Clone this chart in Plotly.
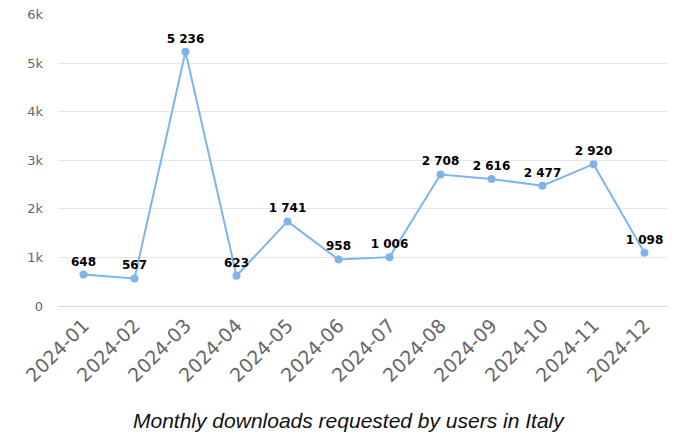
import plotly.graph_objects as go

months = ["2024-01", "2024-02", "2024-03", "2024-04", "2024-05", "2024-06",
          "2024-07", "2024-08", "2024-09", "2024-10", "2024-11", "2024-12"]
downloads = [648, 567, 5236, 623, 1741, 958, 1006, 2708, 2616, 2477, 2920, 1098]
labels = [f"{v:,}".replace(",", " ") for v in downloads]
y_ticks = [0, 1000, 2000, 3000, 4000, 5000, 6000]
y_tick_text = ["0", "1k", "2k", "3k", "4k", "5k", "6k"]
title_text = "Monthly downloads requested by users in Italy"

fig = go.Figure()
fig.add_trace(go.Scatter(
    x=months, y=downloads, mode="lines+markers+text",
    line=dict(color="#7cb5ec", width=2),
    marker=dict(color="#7cb5ec", size=8),
    text=labels, textposition="top center",
    textfont=dict(family="DejaVu Sans", size=12, color="#000000", weight="bold"),
    hoverinfo="skip", cliponaxis=False,
))
fig.update_layout(
    width=667, height=426,
    margin=dict(l=50, r=5, t=6, b=128),
    paper_bgcolor="white", plot_bgcolor="white",
    showlegend=False,
    xaxis=dict(type="category", tickangle=-45, showgrid=False, automargin=False,
               showline=True, linecolor="#ccd6eb", linewidth=1,
               ticks="", tickfont=dict(family="DejaVu Sans", size=19, color="#666666"),
               ticklabeloverflow="allow",
               range=[-0.5, 11.5]),
    yaxis=dict(range=[0, 6012], tickvals=y_ticks, ticktext=y_tick_text, automargin=False,
               showgrid=True, gridcolor="#e6e6e6", gridwidth=1, zeroline=False,
               showline=False, ticks="", ticklabelstandoff=14, ticklabeloverflow="allow",
               tickfont=dict(family="DejaVu Sans", size=13, color="#666666")),
    annotations=[dict(text=title_text, xref="paper", yref="paper",
                      x=0.475, y=0, yshift=-114, xanchor="center", yanchor="middle",
                      showarrow=False,
                      font=dict(family="Liberation Sans", size=21, color="#111111", style="italic"))],
)
fig.write_html("out.html")
